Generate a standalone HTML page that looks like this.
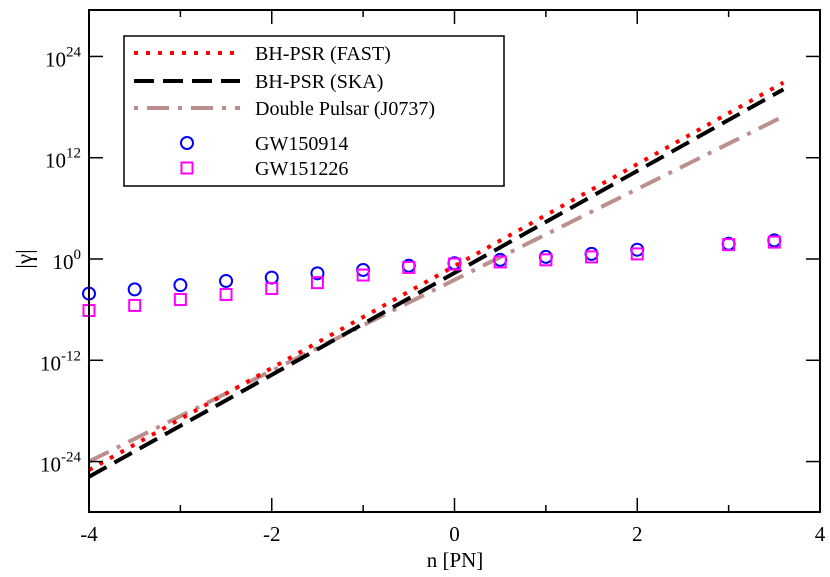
<!DOCTYPE html>
<html><head><meta charset="utf-8"><style>
body{margin:0;background:#fff}
svg text{font-family:"Liberation Serif",serif;fill:#000}
</style></head><body>
<svg id="c" width="830" height="572"></svg>
<script>
const nPN=[-4,-3.5,-3,-2.5,-2,-1.5,-1,-0.5,0,0.5,1,1.5,2,3,3.5];
const gw150914=[-4.1,-3.6,-3.1,-2.6,-2.2,-1.7,-1.3,-0.8,-0.5,-0.1,0.25,0.6,1.1,1.8,2.2];
const gw151226=[-6.1,-5.5,-4.8,-4.2,-3.5,-2.8,-1.9,-1.0,-0.6,-0.35,-0.1,0.25,0.6,1.7,2.0];
const lineN=[-4,3.6];
const fastLog=[-25.0,20.9];
const skaLog=[-25.8,20.1];
const dpLog=[-24.0,16.9];
const xTicks=[-4,-2,0,2,4];
const yTicks=[-24,-12,0,12,24];

const NS="http://www.w3.org/2000/svg";
const svg=document.getElementById('c');
const L=89,R=820,T=10,B=512;
const X=v=>L+(v+4)/8*(R-L);
const Y=v=>259-v*8.44;
function el(t,a,p){const e=document.createElementNS(NS,t);for(const k in a)e.setAttribute(k,a[k]);(p||svg).appendChild(e);return e;}

function line(vals,style,name){
  const e=el('polyline',Object.assign({points:lineN.map((n,i)=>X(n)+','+Y(vals[i])).join(' '),fill:'none'},style));
  
  
}
line(dpLog,{stroke:'#bc8f8f','stroke-width':4,'stroke-dasharray':'22,9,4,9'},'double-pulsar-line');
line(skaLog,{stroke:'#000','stroke-width':4,'stroke-dasharray':'20,9'},'bh-psr-ska-line');
line(fastLog,{stroke:'#f00','stroke-width':4,'stroke-dasharray':'4,8'},'bh-psr-fast-line');

nPN.forEach((n,i)=>{
  const c=el('circle',{cx:X(n),cy:Y(gw150914[i]),r:6,fill:'none',stroke:'#00f','stroke-width':2});
  
  
  const s=el('rect',{x:X(n)-5.5,y:Y(gw151226[i])-5.5,width:11,height:11,fill:'none',stroke:'#f0f','stroke-width':2});
  
  
});

const f=el('rect',{x:L,y:T,width:R-L,height:B-T,fill:'none',stroke:'#000','stroke-width':2});



for(let v=-4;v<=4;v++){
  const len=(v%2===0)?14:7;
  el('line',{x1:X(v),x2:X(v),y1:B,y2:B-len,stroke:'#000','stroke-width':1.5});
  el('line',{x1:X(v),x2:X(v),y1:T,y2:T+len,stroke:'#000','stroke-width':1.5});
}
xTicks.forEach(v=>{
  const t=el('text',{x:X(v),y:541,'text-anchor':'middle','font-size':21});
  t.textContent=v;
  
  
});
yTicks.forEach(v=>{
  el('line',{x1:L,x2:L+14,y1:Y(v),y2:Y(v),stroke:'#000','stroke-width':1.5});
  el('line',{x1:R,x2:R-14,y1:Y(v),y2:Y(v),stroke:'#000','stroke-width':1.5});
  const t=el('text',{x:L-8,y:Y(v)+10,'text-anchor':'end','font-size':21});
  t.innerHTML='10<tspan dy="-10" font-size="15">'+v+'</tspan>';
  
  
});
const xt=el('text',{x:455,y:567,'text-anchor':'middle','font-size':21});
xt.textContent='n [PN]';


const yt=el('text',{x:0,y:0,'text-anchor':'middle','font-size':23,transform:'translate(32,259) rotate(-90)'});
yt.textContent='|γ|';



const lg=el('g',{});


el('rect',{x:124,y:36,width:380,height:150,fill:'#fff',stroke:'#000','stroke-width':1.5},lg);
const ents=[['BH-PSR (FAST)',{stroke:'#f00','stroke-width':4,'stroke-dasharray':'4,8'},53],
['BH-PSR (SKA)',{stroke:'#000','stroke-width':4,'stroke-dasharray':'20,9'},81],
['Double Pulsar (J0737)',{stroke:'#bc8f8f','stroke-width':4,'stroke-dasharray':'4,9,22,9'},108]];
ents.forEach(e=>{
  el('line',Object.assign({x1:134,x2:240,y1:e[2],y2:e[2]},e[1]),lg);
  const t=el('text',{x:255,y:e[2]+7,'font-size':20},lg);t.textContent=e[0];
  
  
});
el('circle',{cx:187,cy:143,r:6,fill:'none',stroke:'#00f','stroke-width':2},lg);
const t1=el('text',{x:255,y:150,'font-size':20},lg);t1.textContent='GW150914';


el('rect',{x:181.5,y:162.5,width:11,height:11,fill:'none',stroke:'#f0f','stroke-width':2},lg);
const t2=el('text',{x:255,y:175,'font-size':20},lg);t2.textContent='GW151226';


</script>
</body></html>
